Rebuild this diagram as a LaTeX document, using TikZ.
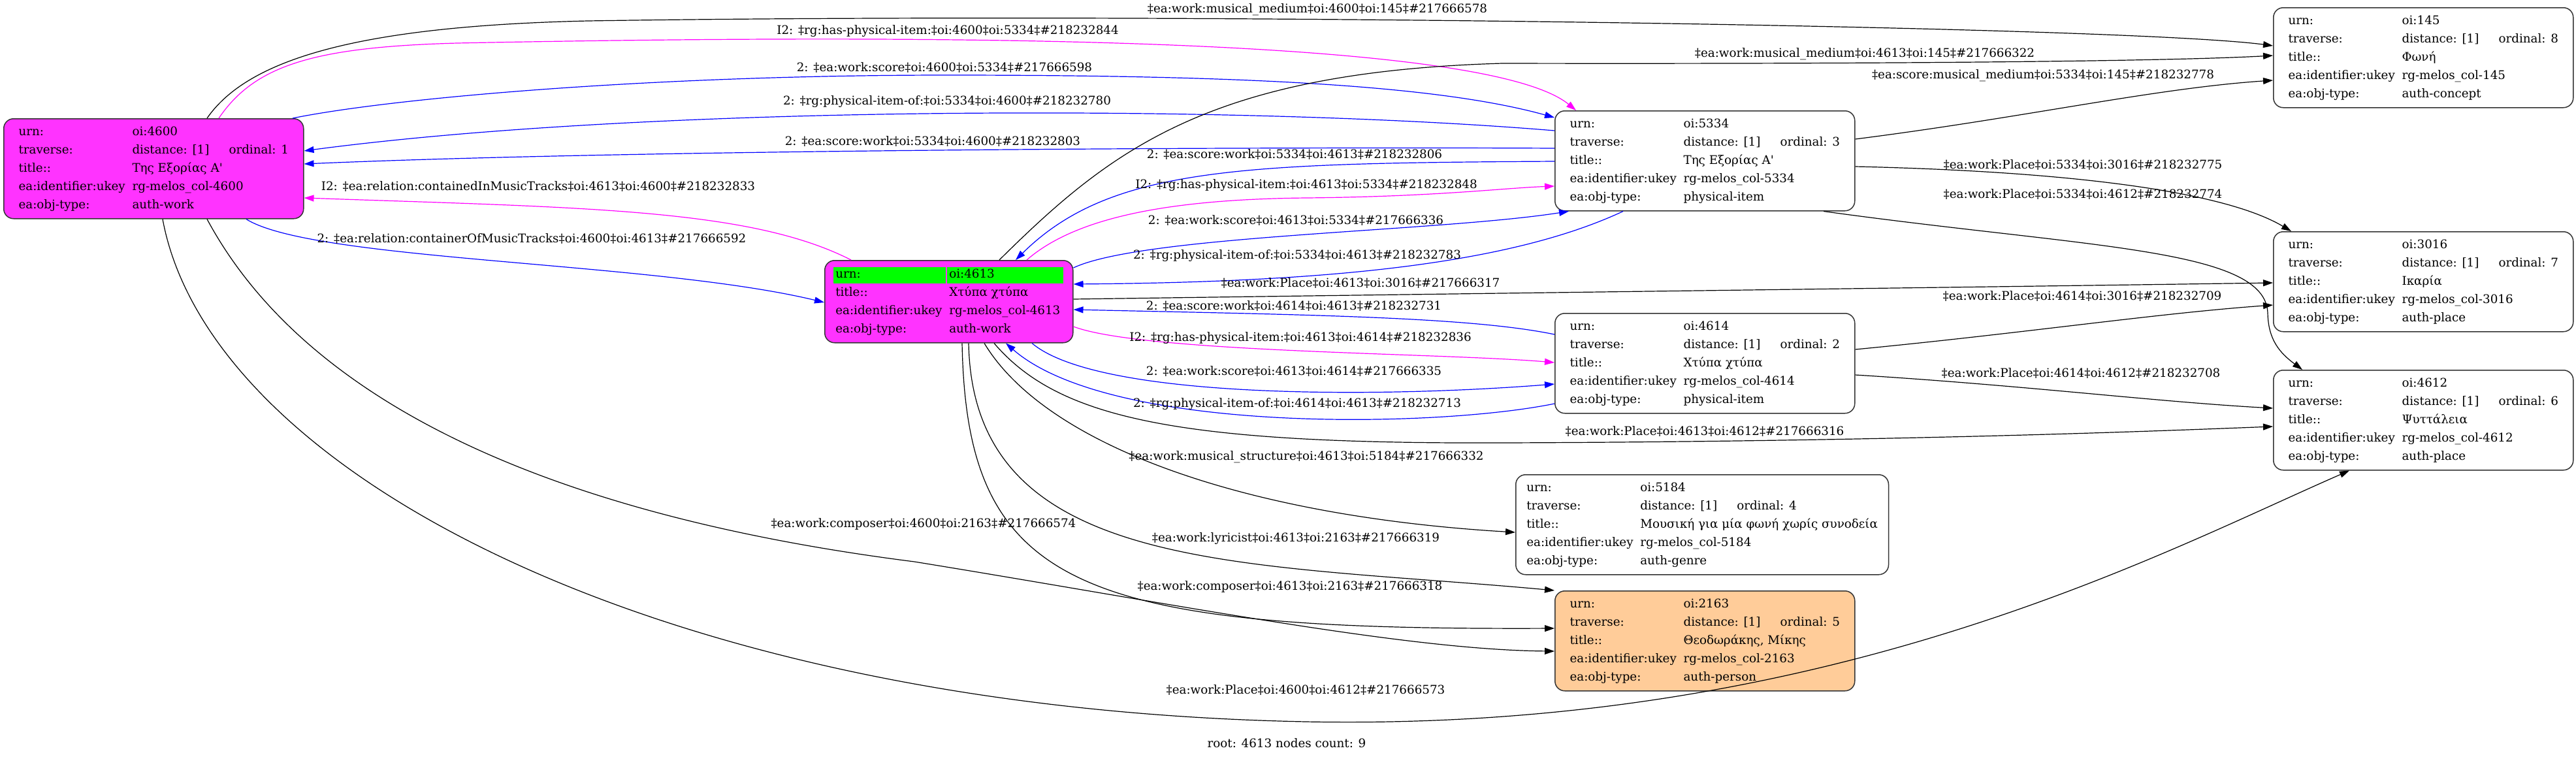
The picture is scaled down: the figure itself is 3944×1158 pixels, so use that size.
\documentclass[tikz,border=0pt]{standalone}
\usepackage{fontspec}
\setmainfont{DejaVu Serif}
\usetikzlibrary{arrows.meta}

\definecolor{work fill}{RGB}{255,51,255}
\definecolor{person fill}{RGB}{255,204,153}
\definecolor{urn green}{RGB}{0,255,0}
\definecolor{link blue}{RGB}{0,0,255}
\definecolor{link pink}{RGB}{255,0,255}
\colorlet{record edge}{black!80}

\newcommand{\recfont}{\fontsize{9.15}{14}\selectfont}
\newcommand{\urncell}[2]{{\setlength{\fboxsep}{0pt}\hspace*{-1.5pt}\colorbox{urn green}{\rule[-4.2pt]{0pt}{12.5pt}\hspace*{1.5pt}\makebox[#1][l]{#2}}}}
\newcommand{\objrecord}[4]{%
  \begin{tabular}{@{}p{87pt}@{}p{74pt}@{}l@{}}
    urn: & oi:#1 & \\
    traverse: & distance: [1] & ordinal: #2\\
    title:: & \multicolumn{2}{@{}l@{}}{#3}\\
    ea:identifier:ukey & \multicolumn{2}{@{}l@{}}{rg-melos\_col-#1}\\
    ea:obj-type: & #4 &
  \end{tabular}}

\tikzset{
  record/.style={draw=record edge, line width=0.75pt, rounded corners=7.5pt, anchor=north west,
    inner xsep=8.25pt, inner ysep=3.25pt, minimum width=229.5pt, minimum height=76.5pt, font=\recfont},
  link text/.style={font=\recfont, inner sep=0pt}
  }
\tikzstyle{plain link} = [draw, line width=0.6pt, -{Triangle[length=7.5pt,width=5pt]}]
\tikzstyle{blue link} = [plain link, draw=link blue]
\tikzstyle{pink link} = [plain link, draw=link pink]

\begin{document}
\begin{tikzpicture}[x=0.5pt,y=-0.5pt]
    \useasboundingbox (0,0) rectangle (3944,1158);

    % the coloured records
    \node[record, fill=work fill] (n4600) at (5,181)
      {\objrecord{4600}{1}{Της Εξορίας Α\textquotesingle}{auth-work}};
    \node[record, fill=work fill, minimum width=190pt, minimum height=63pt] (n4613) at (1262,398) {%
      \begin{tabular}{@{}p{87pt}@{}p{86.5pt}@{}}
        \urncell{84.5pt}{urn:} & \urncell{87.5pt}{oi:4613}\\
        title:: & Χτύπα χτύπα\\
        ea:identifier:ukey & rg-melos\_col-4613\\
        ea:obj-type: & auth-work
      \end{tabular}};
    \node[record, fill=person fill] (n2163) at (2380,904)
      {\objrecord{2163}{5}{Θεοδωράκης, Μίκης}{auth-person}};

    % the white records
    \foreach \pos/\name/\ord/\ttl/\kind in {{(2380,169)/5334/3/Της Εξορίας Α\textquotesingle/physical-item},
        {(2380,479)/4614/2/Χτύπα χτύπα/physical-item}, {(2320,726)/5184/4/Μουσική για μία φωνή χωρίς συνοδεία/auth-genre},
        {(3480,11)/145/8/Φωνή/auth-concept}, {(3480,354)/3016/7/Ικαρία/auth-place}, {(3480,566)/4612/6/Ψυττάλεια/auth-place}} {
      \node[record] (n\name) at \pos {\objrecord{\name}{\ord}{\ttl}{\kind}};
    }

    % links from 4600
    \draw[plain link] (n4600.north -| 317,0) .. controls (380,90) and (550,40) .. (900,32) .. controls (1800,18) and (3250,40) .. (n145.west |- 0,70);
    \draw[pink link] (n4600.north -| 335,0) .. controls (390,100) and (480,72) .. (700,66) .. controls (1500,50) and (2280,60) .. (n5334.north -| 2413,0);
    \draw[blue link] (n4600.north -| 448,0) .. controls (600,150) and (1000,115) .. (1450,115) .. controls (1900,115) and (2200,130) .. (n5334.west |- 0,180);
    \draw[blue link] (n4600.south -| 377,0) .. controls (480,400) and (1000,400) .. (n4613.west |- 0,463);
    \draw[plain link] (n4600.south -| 317,0) .. controls (470,620) and (850,790) .. (1400,860) .. controls (1800,925) and (2150,995) .. (n2163.west |- 0,997);
    \draw[plain link] (n4600.south -| 249,0) .. controls (320,720) and (1000,1085) .. (2000,1105) .. controls (2800,1120) and (3300,850) .. (n4612.south -| 3597,0);

    % links from 5334
    \draw[blue link] (n5334.west |- 0,200) .. controls (1900,160) and (1000,160) .. (n4600.east |- 0,231);
    \draw[blue link] (n5334.west |- 0,227) .. controls (2000,225) and (1000,228) .. (n4600.east |- 0,251);
    \draw[blue link] (n5334.west |- 0,247) .. controls (1900,250) and (1700,255) .. (n4613.north -| 1555,0);
    \draw[blue link] (n5334.south -| 2485,0) .. controls (2300,410) and (2000,432) .. (n4613.east |- 0,435);
    \draw[plain link] (n5334.east |- 0,213) .. controls (3100,180) and (3300,135) .. (n145.west |- 0,123);
    \draw[plain link] (n5334.east |- 0,255) .. controls (3150,262) and (3400,290) .. (n3016.north -| 3508,0);
    \draw[plain link] (n5334.south -| 2792,0) .. controls (3200,380) and (3470,380) .. (3472,480) .. controls (3473,520) and (3490,540) .. (n4612.north -| 3525,0);

    % links from 4613
    \draw[pink link] (n4613.north -| 1303,0) .. controls (1150,320) and (900,318) .. (n4600.east |- 0,303);
    \draw[plain link] (n4613.north -| 1530,0) .. controls (1700,230) and (1850,110) .. (2300,97) .. controls (2800,98) and (3300,95) .. (n145.west |- 0,85);
    \draw[pink link] (n4613.north -| 1572,0) .. controls (1650,330) and (1800,305) .. (2000,303) .. controls (2200,301) and (2300,288) .. (n5334.west |- 0,285);
    \draw[blue link] (n4613.east |- 0,410) .. controls (1750,360) and (2200,355) .. (n5334.south -| 2402,0);
    \draw[plain link] (n4613.east |- 0,458) .. controls (2200,450) and (3000,440) .. (n3016.west |- 0,433);
    \draw[pink link] (n4613.east |- 0,500) .. controls (1750,540) and (2200,540) .. (n4614.west |- 0,555);
    \draw[blue link] (n4613.south -| 1580,0) .. controls (1680,610) and (2100,610) .. (n4614.west |- 0,588);
    \draw[plain link] (n4613.south -| 1522,0) .. controls (1620,640) and (1800,680) .. (2300,678) .. controls (2900,676) and (3300,660) .. (n4612.west |- 0,653);
    \draw[plain link] (n4613.south -| 1507,0) .. controls (1600,680) and (1900,790) .. (n5184.west |- 0,815);
    \draw[plain link] (n4613.south -| 1483,0) .. controls (1490,880) and (1900,860) .. (n2163.north west);
    \draw[plain link] (n4613.south -| 1473,0) .. controls (1480,900) and (1650,965) .. (n2163.west |- 0,962);

    % links from 4614
    \draw[blue link] (n4614.west |- 0,512) .. controls (2250,485) and (2000,482) .. (n4613.east |- 0,474);
    \draw[blue link] (n4614.west |- 0,618) .. controls (2200,655) and (1700,665) .. (n4613.south -| 1540,0);
    \draw[plain link] (n4614.east |- 0,535) .. controls (3100,510) and (3300,480) .. (n3016.west |- 0,467);
    \draw[plain link] (n4614.east |- 0,574) .. controls (3100,590) and (3300,615) .. (n4612.west |- 0,625);

    % the link names
    \foreach \pos/\name/\txt in {{(2017,15)/l1/‡ea:work:musical\_medium‡oi:4600‡oi:145‡\#217666578},
        {(1451,48)/l2/I2: ‡rg:has-physical-item:‡oi:4600‡oi:5334‡\#218232844},
        {(1446,103)/l3/2: ‡ea:work:score‡oi:4600‡oi:5334‡\#217666598},
        {(1450,156)/l4/2: ‡rg:physical-item-of:‡oi:5334‡oi:4600‡\#218232780},
        {(1428,216)/l5/2: ‡ea:score:work‡oi:5334‡oi:4600‡\#218232803},
        {(824,285)/l6/I2: ‡ea:relation:containedInMusicTracks‡oi:4613‡oi:4600‡\#218232833},
        {(814,365)/l7/2: ‡ea:relation:containerOfMusicTracks‡oi:4600‡oi:4613‡\#217666592},
        {(1982,236)/l8/2: ‡ea:score:work‡oi:5334‡oi:4613‡\#218232806},
        {(2000,284)/l9/I2: ‡rg:has-physical-item:‡oi:4613‡oi:5334‡\#218232848},
        {(1984,337)/l10/2: ‡ea:work:score‡oi:4613‡oi:5334‡\#217666336},
        {(1986,392)/l11/2: ‡rg:physical-item-of:‡oi:5334‡oi:4613‡\#218232783},
        {(2083,433)/l12/‡ea:work:Place‡oi:4613‡oi:3016‡\#217666317},
        {(1981,468)/l13/2: ‡ea:score:work‡oi:4614‡oi:4613‡\#218232731},
        {(1991,518)/l14/I2: ‡rg:has-physical-item:‡oi:4613‡oi:4614‡\#218232836},
        {(1981,568)/l15/2: ‡ea:work:score‡oi:4613‡oi:4614‡\#217666335},
        {(1986,619)/l16/2: ‡rg:physical-item-of:‡oi:4614‡oi:4613‡\#218232713},
        {(2610,660)/l17/‡ea:work:Place‡oi:4613‡oi:4612‡\#217666316},
        {(2000,700)/l18/‡ea:work:musical\_structure‡oi:4613‡oi:5184‡\#217666332},
        {(1984,825)/l19/‡ea:work:lyricist‡oi:4613‡oi:2163‡\#217666319},
        {(1975,898)/l20/‡ea:work:composer‡oi:4613‡oi:2163‡\#217666318},
        {(1414,802)/l21/‡ea:work:composer‡oi:4600‡oi:2163‡\#217666574},
        {(1999,1056)/l22/‡ea:work:Place‡oi:4600‡oi:4612‡\#217666573},
        {(3128,116)/l23/‡ea:score:musical\_medium‡oi:5334‡oi:145‡\#218232778},
        {(2855,83)/l24/‡ea:work:musical\_medium‡oi:4613‡oi:145‡\#217666322},
        {(3189,252)/l25/‡ea:work:Place‡oi:5334‡oi:3016‡\#218232775},
        {(3189,297)/l26/‡ea:work:Place‡oi:5334‡oi:4612‡\#218232774},
        {(3188,453)/l27/‡ea:work:Place‡oi:4614‡oi:3016‡\#218232709},
        {(3186,571)/l28/‡ea:work:Place‡oi:4614‡oi:4612‡\#218232708}} {
      \node[link text] (\name) at \pos {\txt};
    }

    \node[link text] (footer) at (1970,1138) {root: 4613 nodes count: 9};
\end{tikzpicture}
\end{document}
